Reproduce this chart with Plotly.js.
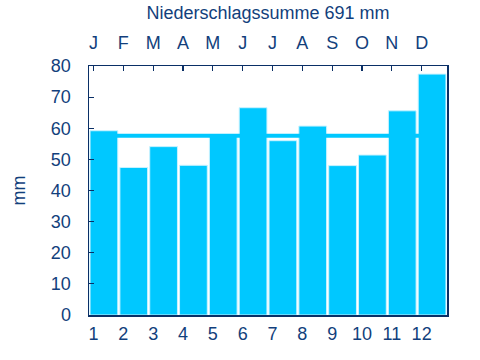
<!DOCTYPE html>
<html>
<head>
<meta charset="utf-8">
<script src="https://cdn.plot.ly/plotly-3.0.1.min.js"></script>
<style>html,body{margin:0;padding:0;background:#fff;}#chart{width:480px;height:360px;}</style>
</head>
<body>
<div id="chart"></div>
<script>
const monthNumbers = [1,2,3,4,5,6,7,8,9,10,11,12];
const monthLetters = ['J','F','M','A','M','J','J','A','S','O','N','D'];
const precipitation = [59.2, 47.4, 54.1, 48.1, 57.5, 66.6, 56.0, 60.7, 48.0, 51.4, 65.6, 77.4];
const totalPrecip = 691;
const yTicks = [0,10,20,30,40,50,60,70,80];

const barX = monthNumbers.map(m => m - 0.5);
const tickX = monthNumbers.map(m => m - 0.85);
const meanVal = totalPrecip / 12;

const textColor = '#123f7c';
const barColor = '#00c8ff';
const font = {family: 'Liberation Sans, Arial, sans-serif', size: 18, color: textColor};

const data = [
  {type: 'scatter', mode: 'lines', x: [0.1, 11.1], y: [meanVal, meanVal],
   line: {color: barColor, width: 4}, hoverinfo: 'skip', xaxis: 'x', yaxis: 'y'},
  {type: 'bar', x: barX, y: precipitation, width: 0.93,
   marker: {color: barColor, line: {color: '#c8f2ff', width: 1}},
   hoverinfo: 'skip', xaxis: 'x', yaxis: 'y'}
];

const layout = {
  width: 480, height: 360,
  margin: {l: 88.5, r: 33, t: 65.7, b: 45.3},
  paper_bgcolor: '#fff', plot_bgcolor: '#fff',
  showlegend: false,
  font: font,
  title: {text: 'Niederschlagssumme ' + totalPrecip + ' mm', font: {family: font.family, size: 18, color: textColor},
          x: 0.5, xref: 'paper', y: 0.966, yref: 'container', yanchor: 'middle'},
  xaxis: {range: [0, 12], tickvals: tickX, ticktext: monthNumbers.map(String),
          ticks: '', showgrid: false, zeroline: false, showline: true, mirror: true,
          linecolor: '#0a2f66', linewidth: 1.5, tickfont: font, ticklabelstandoff: 2, fixedrange: true},
  xaxis2: {overlaying: 'x', side: 'top', matches: 'x', range: [0, 12], tickvals: tickX, ticktext: monthLetters,
           ticks: 'inside', ticklen: 5, tickcolor: '#0a2f66', tickwidth: 1.2,
           showgrid: false, zeroline: false, showline: false, tickfont: font, ticklabelstandoff: 12},
  yaxis: {range: [0, 80], tickvals: yTicks, ticks: 'inside', ticklen: 5, tickcolor: '#0a2f66', tickwidth: 1.2,
          showgrid: false, zeroline: false, showline: true, mirror: true, linecolor: '#0a2f66', linewidth: 1.5,
          tickfont: font, ticklabelstandoff: 13,
          title: {text: 'mm', font: font, standoff: 20}}
};

data.push({type: 'scatter', x: [0], y: [0], xaxis: 'x2', yaxis: 'y', mode: 'markers', marker: {opacity: 0}, hoverinfo: 'skip'});

Plotly.newPlot('chart', data, layout, {staticPlot: true});
</script>
</body>
</html>
